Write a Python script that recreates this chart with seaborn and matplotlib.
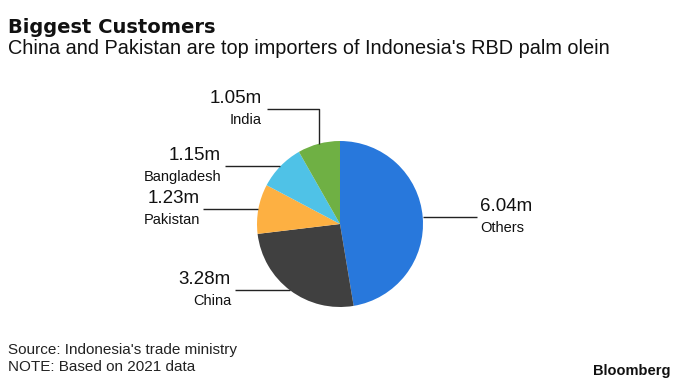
import numpy as np
import matplotlib
matplotlib.use("Agg")
import matplotlib.pyplot as plt
import seaborn as sns

# ---- data ----
countries = ["Others", "China", "Pakistan", "Bangladesh", "India"]
values = [6.04, 3.28, 1.23, 1.15, 1.05]
value_labels = ["6.04m", "3.28m", "1.23m", "1.15m", "1.05m"]
colors = ["#2878dc", "#404040", "#fdb042", "#4fc2e7", "#6fb044"]

title = "Biggest Customers"
subtitle = "China and Pakistan are top importers of Indonesia's RBD palm olein"
source = "Source: Indonesia's trade ministry"
note = "NOTE: Based on 2021 data"

sns.set_theme(style="white")
FONT = ["Liberation Sans", "DejaVu Sans"]
plt.rcParams["font.family"] = FONT

W, H = 680, 383
fig = plt.figure(figsize=(W / 100, H / 100), dpi=100)
ax = fig.add_axes([0, 0, 1, 1])

cx, cy, r = 340, 224, 83
wedges, _ = ax.pie(values, colors=colors, startangle=90, counterclock=False,
                   center=(cx, H - cy), radius=r,
                   wedgeprops=dict(linewidth=0))
ax.set_xlim(0, W)
ax.set_ylim(0, H)
ax.set_aspect("equal")
ax.axis("off")

def py(y):
    return H - y

# label layout
layout = {
    "Others": dict(tx=480, lx=477, ha="left"),
    "China": dict(tx=231, lx=235, ha="right"),
    "Pakistan": dict(tx=200, lx=203, ha="right"),
    "Bangladesh": dict(tx=221, lx=225, ha="right"),
    "India": dict(tx=262, lx=267, ha="right", ly=109),
}

for w, name, vl in zip(wedges, countries, value_labels):
    ang = np.deg2rad((w.theta1 + w.theta2) / 2)
    ex = cx + r * np.cos(ang)
    ey = cy - r * np.sin(ang)
    L = layout[name]
    if "ly" in L:
        ly = L["ly"]
        xs = [ex, ex, L["lx"]]
        ys = [ey, ly, ly]
    else:
        ly = ey
        xs = [ex, L["lx"]]
        ys = [ey, ey]
    ax.plot(xs, [py(v) for v in ys], color="#222222", lw=1.0,
            solid_capstyle="butt")
    ax.text(L["tx"], py(ly - 2), vl, ha=L["ha"], va="bottom",
            fontsize=13.5, color="#111111")
    ax.text(L["tx"], py(ly + 4), name, ha=L["ha"], va="top",
            fontsize=10.5, color="#111111")

fig.text(8 / W, 1 - 18 / H, title, ha="left", va="top", fontsize=14,
         fontweight="bold", family=["DejaVu Sans"], color="#111111")
fig.text(8 / W, 1 - 39 / H, subtitle, ha="left", va="top", fontsize=14.3,
         color="#111111")
fig.text(8 / W, 1 - 343 / H, source, ha="left", va="top", fontsize=11,
         color="#222222")
fig.text(8 / W, 1 - 360 / H, note, ha="left", va="top", fontsize=11,
         color="#222222")
fig.text(671 / W, 1 - 364 / H, "Bloomberg", ha="right", va="top", fontsize=10.5,
         fontweight="bold", family=["Liberation Sans"], color="#111111")

fig.savefig("out.png", dpi=100)
